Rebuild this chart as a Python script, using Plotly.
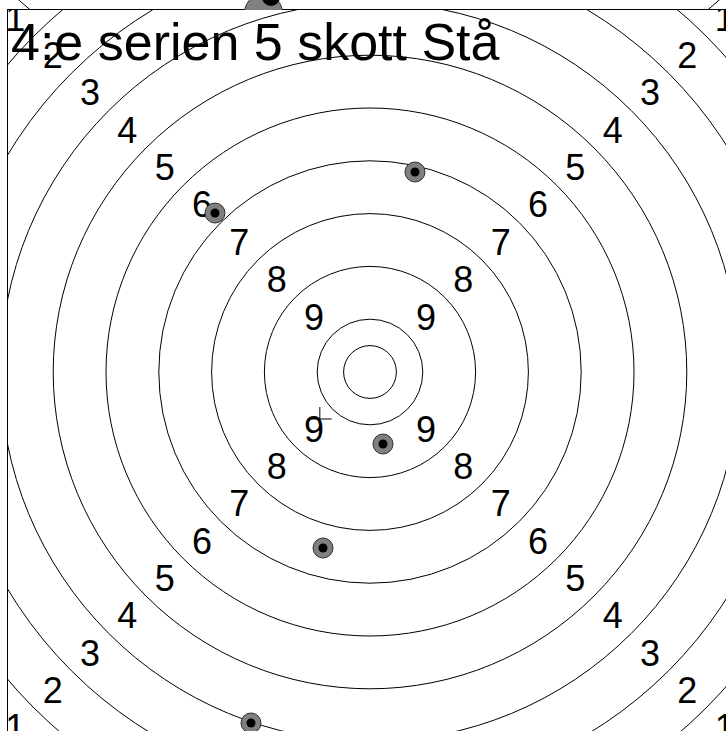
import math
import plotly.graph_objects as go

# ---------------- data (target units: one unit = one ring width) ----------------
ring_radii = [0.5, 1, 2, 3, 4, 5, 6, 7, 8, 9, 10]
ring_numbers = [9, 8, 7, 6, 5, 4, 3, 2, 1]
shot_x = [0.852, -2.936, 0.246, -0.890, -2.254]
shot_y = [3.788, 3.011, -1.364, -3.333, -6.648]
mean_x = [-0.95]
mean_y = [-0.89]
title_text = "4:e serien 5 skott Stå"

# bottom edge of the previous series' target, visible above this one
prev_ring_radii = [10]
prev_center_x = -0.019
prev_shot_x = [-2.017]
prev_shot_y = [-7.727]
prev_hole_x = [-1.875]
prev_hole_y = [-7.424]

# ---------------- layout geometry ----------------
W, H = 726, 731
S = 52.8            # pixels per ring unit
CX, CY = 370, 372   # target centre in pixels
PLOT_L, PLOT_T = 8, 10
PREV_CY = -395
LABEL_DROP = 4.5    # px: visual centring of digit glyphs

FONT = "Liberation Sans, Arial, Helvetica, sans-serif"

fig = go.Figure()

# ring number labels on the diagonals
lab_x, lab_y, lab_t = [], [], []
for n in ring_numbers:
    d = (10.5 - n) / math.sqrt(2)
    for sx, sy in [(-1, 1), (1, 1), (-1, -1), (1, -1)]:
        lab_x.append(sx * d)
        lab_y.append(sy * d - LABEL_DROP / S)
        lab_t.append(str(n))

fig.add_trace(go.Scatter(
    x=lab_x, y=lab_y, text=lab_t, mode="text",
    textposition="middle center",
    textfont=dict(family=FONT, size=36, color="black"),
    hoverinfo="skip", showlegend=False, xaxis="x", yaxis="y"))

# shots: grey disc with black centre
fig.add_trace(go.Scatter(
    x=shot_x, y=shot_y, mode="markers",
    marker=dict(size=20, color="#808080", line=dict(color="#303030", width=1)),
    showlegend=False, xaxis="x", yaxis="y"))
fig.add_trace(go.Scatter(
    x=shot_x, y=shot_y, mode="markers",
    marker=dict(size=9, color="black", line=dict(width=0)),
    showlegend=False, xaxis="x", yaxis="y"))

# mean point of impact
fig.add_trace(go.Scatter(
    x=mean_x, y=mean_y, mode="markers",
    marker=dict(symbol="cross-thin", size=17, color="black",
                line=dict(color="black", width=1)),
    showlegend=False, xaxis="x", yaxis="y"))

# previous series strip
fig.add_trace(go.Scatter(
    x=prev_shot_x, y=prev_shot_y, mode="markers",
    marker=dict(size=38, color="#808080", line=dict(color="#303030", width=1)),
    showlegend=False, xaxis="x2", yaxis="y2"))
fig.add_trace(go.Scatter(
    x=prev_hole_x, y=prev_hole_y, mode="markers",
    marker=dict(size=18, color="black", line=dict(width=0)),
    showlegend=False, xaxis="x2", yaxis="y2"))

shapes = []
for r in ring_radii:
    shapes.append(dict(type="circle", xref="x", yref="y",
                       x0=-r, x1=r, y0=-r, y1=r,
                       line=dict(color="black", width=1), layer="below"))
for r in prev_ring_radii:
    shapes.append(dict(type="circle", xref="x2", yref="y2",
                       x0=prev_center_x - r, x1=prev_center_x + r, y0=-r, y1=r,
                       line=dict(color="black", width=1), layer="below"))

ax_common = dict(showgrid=False, zeroline=False, showticklabels=False, ticks="")

fig.update_layout(
    width=W, height=H,
    margin=dict(l=0, r=0, t=0, b=0),
    paper_bgcolor="white", plot_bgcolor="white",
    shapes=shapes,
    xaxis=dict(**ax_common, domain=[PLOT_L / W, 1],
               range=[(PLOT_L - CX) / S, (W - CX) / S],
               side="top", showline=True, linecolor="black", linewidth=1,
               anchor="y"),
    yaxis=dict(**ax_common, domain=[0, 1 - PLOT_T / H],
               range=[(CY - H) / S, (CY - PLOT_T) / S],
               showline=True, linecolor="black", linewidth=1,
               anchor="x"),
    xaxis2=dict(**ax_common, domain=[0, 1],
                range=[(0 - CX) / S, (W - CX) / S], anchor="y2"),
    yaxis2=dict(**ax_common, domain=[1 - PLOT_T / H, 1],
                range=[(PREV_CY - PLOT_T) / S, (PREV_CY - 0) / S], anchor="x2"),
    annotations=[dict(text=title_text, xref="paper", yref="paper",
                      x=9 / W, y=1 - 42 / H, xanchor="left", yanchor="middle",
                      showarrow=False,
                      font=dict(family=FONT, size=52, color="black"))],
    showlegend=False,
)

fig.write_html("out.html", config={"displayModeBar": False},
               post_script="document.body.style.margin='0';document.body.style.overflow='hidden';")
